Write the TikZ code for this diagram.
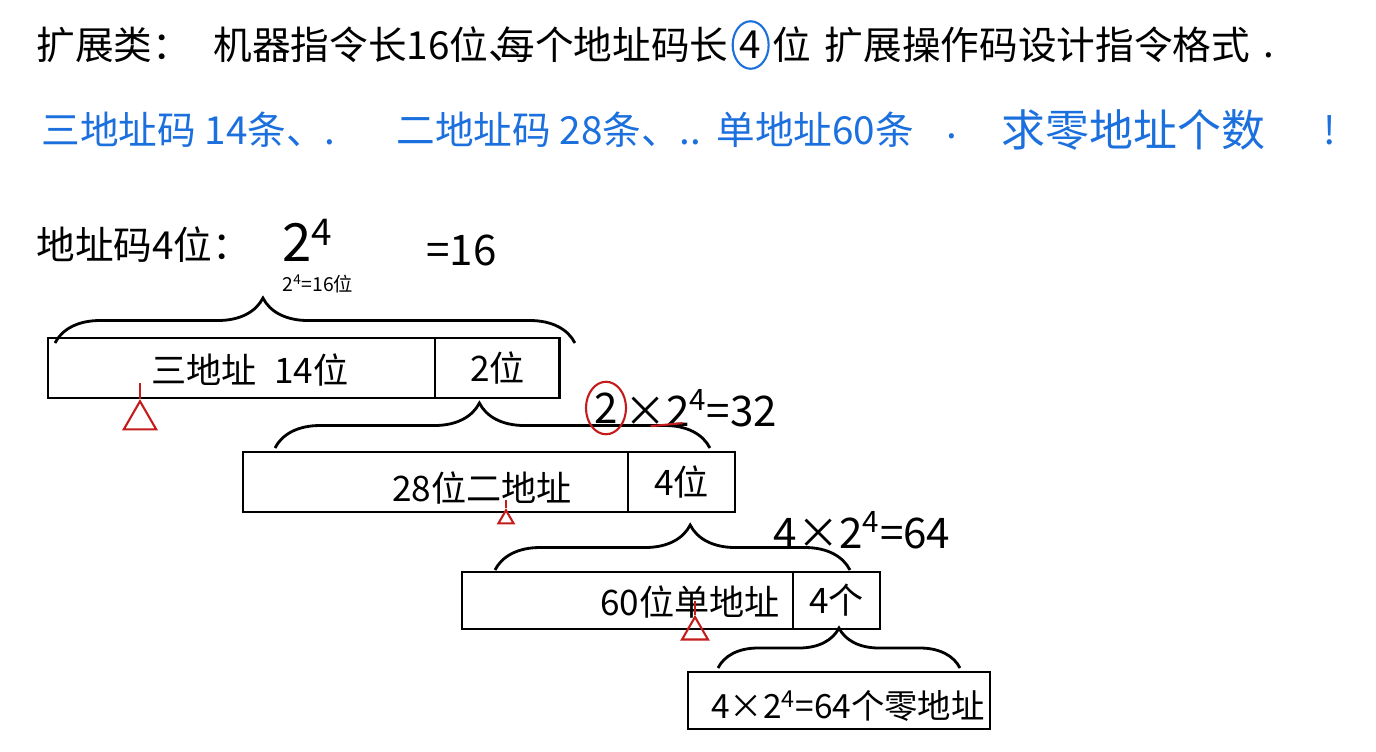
\documentclass[tikz,border=0pt]{standalone}
\usepackage{fontspec}
\newfontfamily\cjk{Noto Sans CJK SC}
\usetikzlibrary{positioning,calc,shapes.geometric,decorations.pathreplacing}
\definecolor{inkblue}{RGB}{28,112,222}
\definecolor{inkred}{RGB}{196,28,28}

\begin{document}
\begin{tikzpicture}[
    x=0.02cm, y=-0.02cm,
    font=\cjk,
    line width=1.6pt,
    field/.style={
        draw,
        line width=1.6pt,
        minimum height=1.2cm,
        inner sep=0pt,
        outer sep=0pt
    },
    head/.style={font=\cjk\fontsize{22}{26}\selectfont, inner sep=0pt, anchor=west},
    ask/.style={head, text=inkblue},
    txt/.style={font=\cjk\fontsize{20}{24}\selectfont, inner sep=0pt},
    calc24/.style={font=\cjk\fontsize{24}{28}\selectfont, inner sep=0pt},
    brc/.style={
        decorate,
        decoration={brace, amplitude=0.9cm, aspect=#1},
        line width=1.6pt
    },
    tri/.style={
        draw=inkred,
        regular polygon,
        regular polygon sides=3,
        minimum size=0.75cm,
        inner sep=0pt,
        line width=1.2pt
    },
    ring/.style={draw=#1, ellipse, inner sep=0pt, line width=1.2pt},
    redline/.style={draw=inkred, line width=1.2pt}
]
\useasboundingbox (0,0) rectangle (1376,751);

% question, first line
\node[head] (h1) at (35,45) {扩展类：};
\node[head] (h2) at (212,45) {机器指令长16位、};
\node[head] (h3) at (495,45) {每个地址码长};
\node[head, right=5pt of h3] (h4) {4};
\node[head, right=5pt of h4] (h5) {位};
\node[head, right=6pt of h5] (h6) {扩展操作码设计指令格式};
\node[head, right=6pt of h6, yshift=-6pt] (h7) {.};
\node[ring=inkblue, minimum width=0.72cm, minimum height=0.95cm] (ring1) at (h4) {};

% question, second line
\node[ask] (q1) at (40,130) {三地址码 14条、.};
\node[ask] (q2) at (395,130) {二地址码 28条、..};
\node[ask] (q3) at (715,130) {单地址60条};
\node[ask] (q4) at (945,136) {.};
\node[ask, font=\cjk\fontsize{25}{29}\selectfont] (q5) at (1000,130) {求零地址个数};
\node[ask] (q6) at (1322,130) {!};

% address code length
\node[head] (w1) at (35,245) {地址码4位：};
\node[font=\cjk\fontsize{30}{34}\selectfont, inner sep=0pt] (w2) at (308,240) {2\textsuperscript{4}};
\node[calc24, anchor=west] (w3) at (425,250) {=16};
\node[font=\cjk\fontsize{11}{13}\selectfont, inner sep=0pt] (w4) at (318,284) {2\textsuperscript{4}=16位};

% three-address format
\node[field, minimum width=7.74cm, anchor=north west] (a1) at (48,338) {};
\node[field, minimum width=2.5cm, right=0pt of a1] (a2) {};
\node[txt] (la1) at (250,370) {三地址\enspace 14位};
\node[txt] (la2) at (a2) {2位};
\draw[brc=0.4] ($(a1.north west)+(7,5)$) -- ($(a2.north east)+(15,5)$);
\node[tri] (tri1) at (140,420) {};
\draw[redline] (tri1.north) -- ++(0,-16);

% two-address format
\node[field, minimum width=7.7cm, anchor=north west] (b1) at (243,452) {};
\node[field, minimum width=2.14cm, right=0pt of b1] (b2) {};
\node[txt] (lb1) at (482,488) {28位二地址};
\node[txt] (lb2) at (b2) {4位};
\draw[brc=0.47] ($(b1.north west)+(32,-4)$) -- ($(b2.north east)+(-25,-4)$);
\node[tri, minimum size=0.35cm] (tri2) at (506,519) {};
\draw[redline] (tri2.north) -- ++(0,-8);
\node[calc24] (k2) at (606,408) {2};
\node[calc24, right=2pt of k2] (k3) {×2\textsuperscript{4}=32};
\node[ring=inkred, minimum width=0.8cm, minimum height=1.05cm] (ring2) at (k2) {};
\draw[redline] ($(k3.south west)+(28,-2)$) -- ++(32,-3);

% one-address format
\node[field, minimum width=6.62cm, minimum height=1.14cm, anchor=north west] (c1) at (462,572) {};
\node[field, minimum width=1.74cm, minimum height=1.14cm, right=0pt of c1] (c2) {};
\node[txt] (lc1) at (690,602) {60位单地址};
\node[txt] (lc2) at (c2) {4个};
\draw[brc=0.55] ($(c1.north west)+(33,-2)$) -- ($(c2.north east)+(-30,-2)$);
\node[tri, minimum size=0.6cm] (tri3) at (695,632) {};
\draw[redline] (tri3.north) -- ++(0,-14);
\node[calc24] (k4) at (862,530) {4×2\textsuperscript{4}=64};

% zero-address format
\node[field, minimum width=6.04cm, minimum height=1.14cm, anchor=north west] (d1) at (688,672) {};
\node[txt, font=\cjk\fontsize{19}{23}\selectfont] (ld1) at (848,706) {4×2\textsuperscript{4}=64个零地址};
\draw[brc=0.5, decoration={amplitude=0.8cm}] ($(d1.north west)+(30,-4)$) -- ($(d1.north east)+(-30,-4)$);

\end{tikzpicture}
\end{document}
